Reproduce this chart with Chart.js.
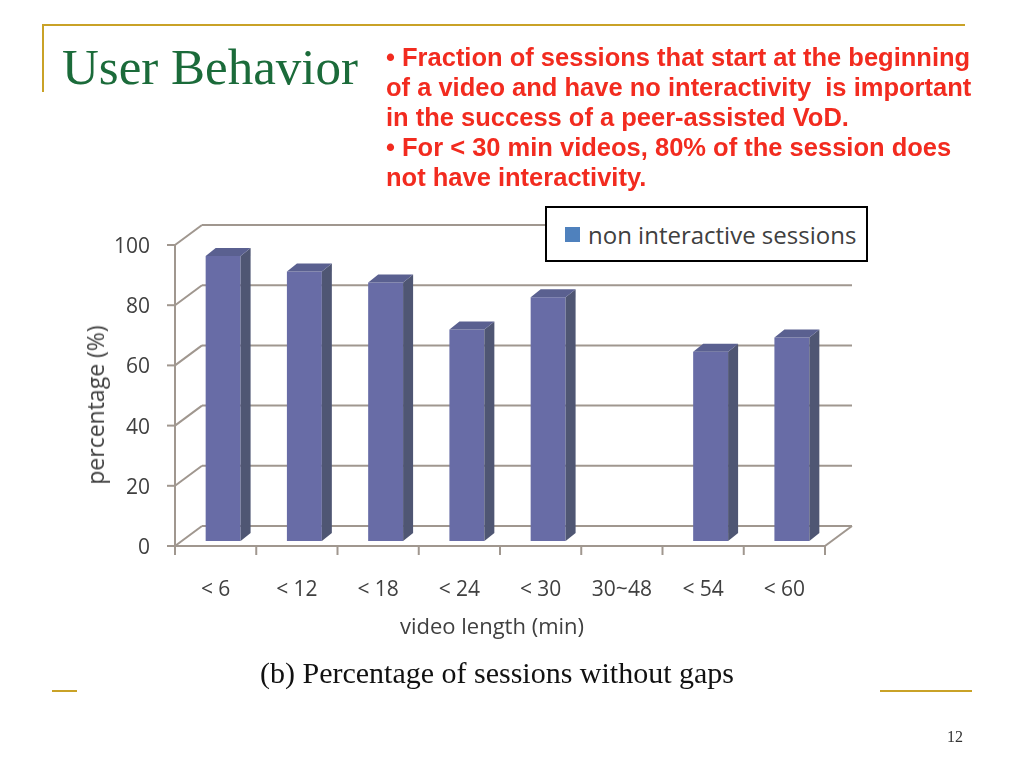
<!DOCTYPE html>
<html>
<head>
<meta charset="utf-8">
<script src="https://cdn.jsdelivr.net/npm/chart.js@4.4.1/dist/chart.umd.min.js"></script>
<style>
  html,body{margin:0;padding:0;background:#fff;}
  #page{position:relative;width:1024px;height:768px;overflow:hidden;background:#fff;}
  #c{position:absolute;left:0;top:0;}
  .gold{position:absolute;background:#c9a227;}
  .abs{position:absolute;white-space:nowrap;}
  #title{left:62px;top:42px;font:51px/51px "Liberation Serif",serif;color:#1b6b3a;}
  #bullets{left:386px;top:42px;font:bold 25.5px/30px "Liberation Sans",Arial,sans-serif;color:#f22b1f;}
  #ytitle{left:95px;top:405px;font:23px "Open Sans",sans-serif;color:#404040;transform:translate(-50%,-50%) rotate(-90deg);}
  #xtitle{left:492px;top:625px;font:22px "Open Sans",sans-serif;color:#404040;transform:translate(-50%,-50%);}
  #legend{left:545px;top:206px;width:319px;height:52px;border:2px solid #000;background:#fff;}
  #legSw{position:absolute;left:18px;top:19px;width:15px;height:15px;background:#4f81bd;}
  #legTx{position:absolute;left:41px;top:26px;transform:translateY(-50%);font:24px "Open Sans",sans-serif;color:#404040;white-space:nowrap;}
  #caption{left:497px;top:658px;font:30px/30px "Liberation Serif",serif;color:#111;transform:translateX(-50%);}
  #pageno{left:947px;top:729px;font:16px/16px "Liberation Serif",serif;color:#333;}
</style>
</head>
<body>
<div id="page">
  <canvas id="c" width="1024" height="768"></canvas>
  <div class="gold" style="left:42px;top:24px;width:923px;height:2px;"></div>
  <div class="gold" style="left:42px;top:24px;width:2px;height:68px;"></div>
  <div class="gold" style="left:52px;top:690px;width:25px;height:2px;"></div>
  <div class="gold" style="left:880px;top:690px;width:92px;height:2px;"></div>
  <div id="title" class="abs">User Behavior</div>
  <div id="bullets" class="abs">• Fraction of sessions that start at the beginning<br>of a video and have no interactivity &nbsp;is important<br>in the success of a peer-assisted VoD.<br>• For &lt; 30 min videos, 80% of the session does<br>not have interactivity.</div>
  <div id="ytitle" class="abs">percentage (%)</div>
  <div id="xtitle" class="abs">video length (min)</div>
  <div id="legend" class="abs"><div id="legSw"></div><div id="legTx"></div></div>
  <div id="caption" class="abs">(b) Percentage of sessions without gaps</div>
  <div id="pageno" class="abs">12</div>
</div>
<script>
// ---- data ----
const categories = ['< 6', '< 12', '< 18', '< 24', '< 30', '30~48', '< 54', '< 60'];
const nonInteractive = [94.7, 89.5, 85.9, 70.3, 81.0, null, 62.9, 67.6];
const yTickValues = [0, 20, 40, 60, 80, 100];
const seriesLabel = 'non interactive sessions';

document.getElementById('legTx').textContent = seriesLabel;

// ---- 3D look (styles only) ----
const FRONT = {dx: -7.5, dy: 5};
const BACK = {dx: 19.5, dy: -15};
const DEPTH = {dx: 10, dy: -8};
const GRID = '#a0978f';
const SIDE = '#4f5673';
const TOP = '#5a6090';

function seg(ctx, x1, y1, x2, y2) {
  ctx.beginPath(); ctx.moveTo(x1, y1); ctx.lineTo(x2, y2); ctx.stroke();
}

const frame3d = {
  id: 'frame3d',
  beforeDatasetsDraw(chart) {
    const {ctx, chartArea: a, scales: {x, y}} = chart;
    ctx.save();
    ctx.strokeStyle = GRID;
    ctx.lineWidth = 2;
    const fl = a.left + FRONT.dx, fr = a.right + FRONT.dx;
    const bl = a.left + BACK.dx, br = a.right + BACK.dx;
    y.ticks.forEach(t => {
      const py = y.getPixelForValue(t.value);
      seg(ctx, bl, py + BACK.dy, br, py + BACK.dy);
      seg(ctx, fl, py + FRONT.dy, bl, py + BACK.dy);
      seg(ctx, fl - 8, py + FRONT.dy, fl, py + FRONT.dy);
    });
    const yTop = y.getPixelForValue(y.max), y0 = y.getPixelForValue(0);
    seg(ctx, fl, yTop + FRONT.dy, fl, y0 + FRONT.dy);
    seg(ctx, fl, y0 + FRONT.dy, fr, y0 + FRONT.dy);
    seg(ctx, fr, y0 + FRONT.dy, br, y0 + BACK.dy);
    for (let k = 0; k <= categories.length; k++) {
      const px = x.getPixelForValue(k - 0.5) + FRONT.dx;
      seg(ctx, px, y0 + FRONT.dy, px, y0 + FRONT.dy + 9);
    }
    ctx.restore();
  },
  afterDatasetsDraw(chart) {
    const {ctx} = chart;
    const meta = chart.getDatasetMeta(0);
    ctx.save();
    meta.data.forEach((bar, i) => {
      if (nonInteractive[i] == null) return;
      const p = bar.getProps(['x', 'y', 'base', 'width'], true);
      const L = p.x - p.width / 2, R = p.x + p.width / 2;
      ctx.fillStyle = SIDE;
      ctx.beginPath();
      ctx.moveTo(R, p.y); ctx.lineTo(R + DEPTH.dx, p.y + DEPTH.dy);
      ctx.lineTo(R + DEPTH.dx, p.base + DEPTH.dy); ctx.lineTo(R, p.base);
      ctx.closePath(); ctx.fill();
      ctx.fillStyle = TOP;
      ctx.beginPath();
      ctx.moveTo(L, p.y); ctx.lineTo(L + DEPTH.dx, p.y + DEPTH.dy);
      ctx.lineTo(R + DEPTH.dx, p.y + DEPTH.dy); ctx.lineTo(R, p.y);
      ctx.closePath(); ctx.fill();
    });
    ctx.restore();
  }
};

new Chart(document.getElementById('c'), {
  type: 'bar',
  data: {
    labels: categories,
    datasets: [{
      label: seriesLabel,
      data: nonInteractive,
      backgroundColor: '#686ca6',
      borderWidth: 0,
      barPercentage: 0.43,
      categoryPercentage: 1.0
    }]
  },
  options: {
    responsive: false,
    animation: false,
    devicePixelRatio: 1,
    layout: {padding: {left: 92.5, right: 191.5, top: 240, bottom: 167}},
    plugins: {legend: {display: false}, tooltip: {enabled: false}, title: {display: false}},
    scales: {
      x: {
        grid: {display: false, drawTicks: false},
        border: {display: false},
        ticks: {
          color: '#404040',
          font: {family: 'Open Sans', size: 21},
          padding: 36,
          labelOffset: -7.5,
          maxRotation: 0, autoSkip: false
        },
        afterFit(s) { s.height = 60; }
      },
      y: {
        min: 0, max: 100,
        grid: {display: false, drawTicks: false},
        border: {display: false},
        ticks: {
          color: '#404040',
          font: {family: 'Open Sans', size: 21},
          padding: 32.5,
          labelOffset: 7
        },
        afterBuildTicks(s) { s.ticks = yTickValues.map(v => ({value: v})); },
        afterFit(s) { s.width = 90; }
      }
    }
  },
  plugins: [frame3d]
});
</script>
</body>
</html>
